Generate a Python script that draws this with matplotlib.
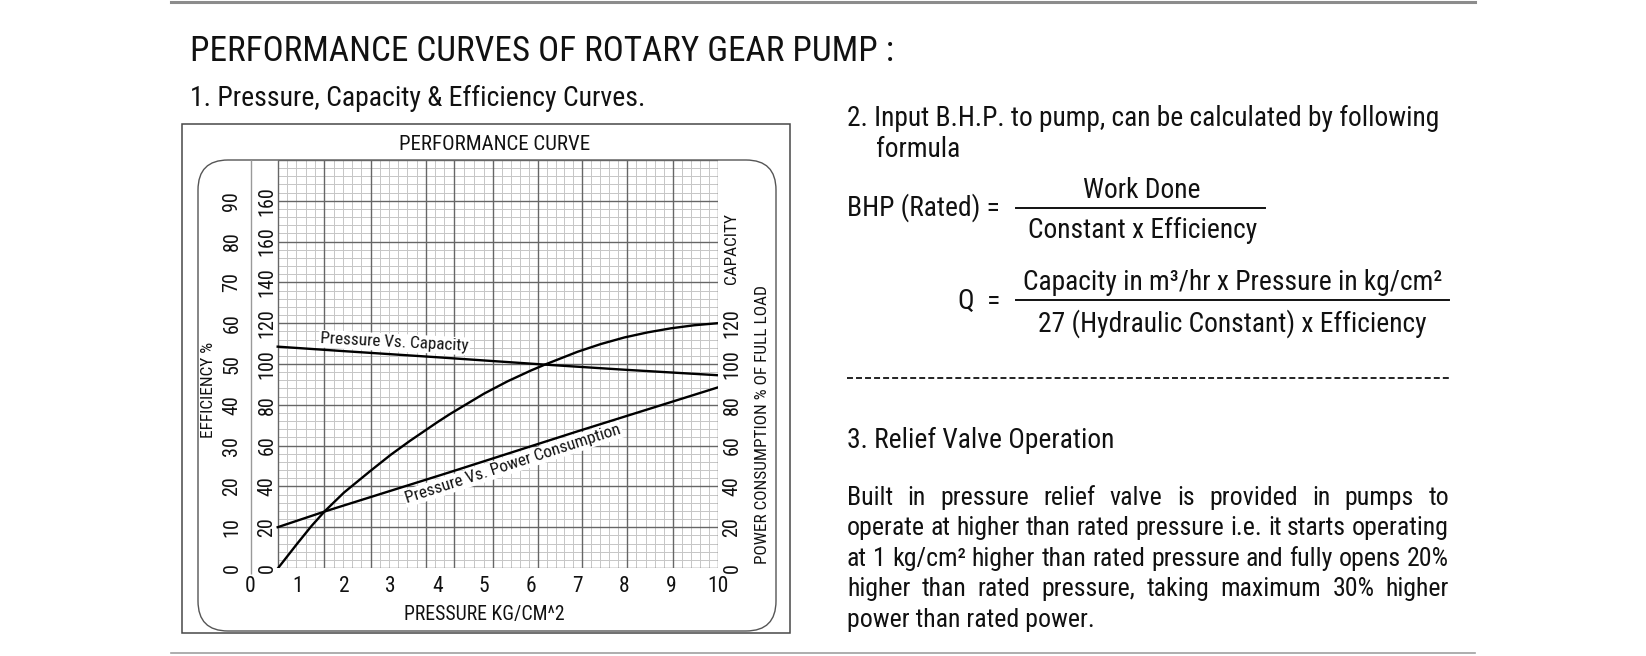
import matplotlib
matplotlib.use("Agg")
import matplotlib.pyplot as plt
from matplotlib import font_manager
from matplotlib.patches import FancyBboxPatch, Rectangle

# values, inner left scale (capacity 0-200)
pressure_cap = [0.58, 2.0, 4.0, 6.3, 8.0, 10.0]
capacity_line = [108.5, 106.3, 103.3, 99.7, 97.2, 94.5]

pressure_eff = [0.59, 1.0, 1.3, 1.59, 2.0, 2.56, 3.0, 3.41, 4.0, 4.27, 5.0,
                5.5, 6.0, 6.3, 7.0, 7.5, 8.0, 8.5, 9.0, 9.5, 10.0]
efficiency_curve = [0, 12, 20.5, 27.9, 37, 47.5, 55.5, 62.3, 71.5, 75.5, 85.5,
                    91.5, 96.8, 99.7, 106, 109.8, 113, 115.5, 117.5, 119, 120]

pressure_pow = [0.58, 1.6, 4.27, 7.0, 10.0]
power_line = [20, 27.8, 47, 67, 88.5]

x_ticks = list(range(11))
x_labels = [str(v) for v in x_ticks]
cap_ticks = [0, 20, 40, 60, 80, 100, 120, 140, 160, 180]
cap_labels = ["0", "20", "40", "60", "80", "100", "120", "140", "160", "160"]
eff_ticks = [0, 10, 20, 30, 40, 50, 60, 70, 80, 90]
pow_ticks = [0, 20, 40, 60, 80, 100, 120]

# graph paper (the drawing's major verticals are not evenly spaced)
grid_major_x = [0.58, 1.58, 2.57, 3.75, 4.35, 5.2, 6.15, 7.1, 8.06, 9.05, 10.0]
grid_major_y = list(range(0, 201, 20))

paragraph = [
    "Built in pressure relief valve is provided in pumps to",
    "operate at higher than rated pressure i.e. it starts operating",
    "at 1 kg/cm\u00b2 higher than rated pressure and fully opens 20%",
    "higher than rated pressure, taking maximum 30% higher",
    "power than rated power.",
]

names = {f.name for f in font_manager.fontManager.ttflist}
main_font = "DejaVu Sans"
for cand in ["Liberation Sans Narrow", "Roboto Condensed", "Open Sans Condensed"]:
    if cand in names:
        main_font = cand
        break
plt.rcParams["font.family"] = [main_font, "DejaVu Sans"]

INK = "#111111"
W, H = 1646, 656
fig = plt.figure(figsize=(W / 100, H / 100), dpi=100)
fig.patch.set_facecolor("white")

# pixel overlay for frames and free text
bg = fig.add_axes([0, 0, 1, 1])
bg.set_xlim(0, W)
bg.set_ylim(H, 0)
bg.axis("off")

bg.plot([171, 1475], [1.5, 1.5], color="#8c8c8c", lw=2.2)
bg.plot([171, 1475], [653, 653], color="#a0a0a0", lw=1.2)
bg.add_patch(Rectangle((182, 124), 608.5, 509, fill=False, ec="#484848", lw=1.1))
bg.add_patch(FancyBboxPatch((198, 160), 578, 471, boxstyle="round,pad=0,rounding_size=30",
                            fill=False, ec="#555555", lw=1.0))

bg.text(190, 61, "PERFORMANCE CURVES OF ROTARY GEAR PUMP :", fontsize=25.3, color=INK)
bg.text(190, 106.5, "1. Pressure, Capacity & Efficiency Curves.", fontsize=20, color=INK)
bg.text(495, 149.5, "PERFORMANCE CURVE", fontsize=15, color=INK, ha="center")
bg.text(484, 620, "PRESSURE KG/CM^2", fontsize=14.2, color=INK, ha="center")
bg.text(209, 390, "EFFICIENCY %", fontsize=12.4, color=INK, rotation=90, ha="center", va="center")
bg.text(732, 249, "CAPACITY", fontsize=12.4, color=INK, rotation=90, ha="center", va="center")
bg.text(763, 425, "POWER CONSUMPTION % OF FULL LOAD", fontsize=12.4, color=INK,
        rotation=90, ha="center", va="center")

fh = 19.8
fs = 18.6
bg.text(847, 126.5, "2. Input B.H.P. to pump, can be calculated by following", fontsize=fh, color=INK)
bg.text(876, 157, "formula", fontsize=fh, color=INK)
bg.text(847, 216, "BHP (Rated) =", fontsize=fh, color=INK)
bg.plot([1016, 1265], [208, 208], color=INK, lw=1.4)
bg.text(1142, 198.5, "Work Done", fontsize=fh, color=INK, ha="center")
bg.text(1143, 238.5, "Constant x Efficiency", fontsize=fh, color=INK, ha="center")
bg.text(958, 309, "Q  =", fontsize=fh, color=INK)
bg.plot([1016, 1449], [300, 300], color=INK, lw=1.4)
bg.text(1233, 290.5, "Capacity in m\u00b3/hr x Pressure in kg/cm\u00b2", fontsize=fh, color=INK, ha="center")
bg.text(1232, 331.5, "27 (Hydraulic Constant) x Efficiency", fontsize=fh, color=INK, ha="center")
bg.plot([847, 1449], [378, 378], color=INK, lw=1.3, ls=(0, (3.3, 1.7)))
bg.text(847, 448, "3. Relief Valve Operation", fontsize=fh, color=INK)

renderer = fig.canvas.get_renderer()
left, right = 847, 1449
for i, line in enumerate(paragraph):
    y = 505 + i * 30.4
    if i == len(paragraph) - 1:
        bg.text(left, y, line, fontsize=fs, color=INK)
        continue
    words = line.split()
    texts = [bg.text(0, y, w, fontsize=fs, color=INK) for w in words]
    widths = [t.get_window_extent(renderer).width for t in texts]
    gap = (right - left - sum(widths)) / (len(words) - 1)
    x = left
    for t, w in zip(texts, widths):
        t.set_x(x)
        x += w + gap

# the chart itself: x=0 at 250.6 px, x=10 at 717.7 px, y=0 at 568 px, y=200 at 160 px
ax = fig.add_axes([250.6 / W, (H - 568) / H, 467.1 / W, 408 / H])
ax.set_facecolor("none")
ax.set_xlim(0, 10)
ax.set_ylim(0, 200)
for s in ax.spines.values():
    s.set_visible(False)

minor_x = []
for a, b in zip(grid_major_x[:-1], grid_major_x[1:]):
    n = max(1, round((b - a) / 0.2))
    minor_x += [a + (b - a) * k / n for k in range(1, n)]
minor_y = [v for v in range(0, 201, 4) if v % 20]
x0 = grid_major_x[0]
ax.vlines(minor_x, 0, 200, color="#c6c6c6", lw=0.7, zorder=1)
ax.hlines(minor_y, x0, 10, color="#c6c6c6", lw=0.7, zorder=1)
ax.vlines(grid_major_x, 0, 200, color="#666666", lw=1.0, zorder=2)
ax.hlines(grid_major_y, x0, 10, color="#666666", lw=1.0, zorder=2)
ax.vlines(0, -3, 200, color="#9a9a9a", lw=1.0, clip_on=False)

ax.plot(pressure_cap, capacity_line, color="black", lw=1.7, zorder=4)
ax.plot(pressure_eff, efficiency_curve, color="black", lw=1.7, zorder=4)
ax.plot(pressure_pow, power_line, color="black", lw=1.7, zorder=4)

box = dict(facecolor="white", edgecolor="none", pad=1.0)
ax.text(3.08, 110.5, "Pressure Vs. Capacity", fontsize=12.3, color=INK, rotation=-3,
        ha="center", va="center", bbox=box, zorder=5)
ax.text(5.62, 51, "Pressure Vs. Power Consumption", fontsize=12.3, color=INK, rotation=18,
        ha="center", va="center", bbox=box, zorder=5, rotation_mode="anchor")

ax.set_xticks(x_ticks, x_labels, fontsize=15.5, color=INK)
ax.tick_params(axis="x", length=0, pad=5.5)
ax.set_yticks(cap_ticks, cap_labels, fontsize=14.5, color=INK, rotation=90, ha="center", va="center")
ax.tick_params(axis="y", length=0, pad=-11.8)

eff = ax.secondary_yaxis("left", functions=(lambda c: c / 2, lambda e: e * 2))
eff.set_yticks(eff_ticks, [str(v) for v in eff_ticks], fontsize=14.5, color=INK,
               rotation=90, ha="center", va="center")
eff.tick_params(length=0, pad=13.4)
eff.spines["left"].set_visible(False)

pw = ax.secondary_yaxis("right")
pw.set_yticks(pow_ticks, [str(v) for v in pow_ticks], fontsize=14.5, color=INK,
              rotation=90, ha="center", va="center")
pw.tick_params(length=0, pad=10.3)
pw.spines["right"].set_visible(False)

fig.savefig("out.png", dpi=100)
